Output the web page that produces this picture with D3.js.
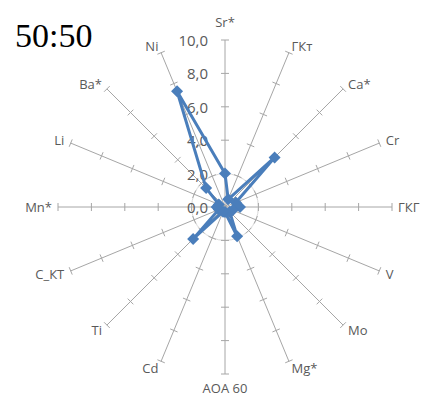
<!DOCTYPE html>
<html><head><meta charset="utf-8">
<script src="https://cdn.jsdelivr.net/npm/d3@7"></script>
<style>html,body{margin:0;padding:0;background:#fff}</style>
</head><body>
<svg id="c" width="424" height="399"></svg>
<script>
const categories = ["Sr*","ГКт","Ca*","Cr","ГКГ","V","Mo","Mg*","АОА 60","Cd","Ti","С_КТ","Mn*","Li","Ba*","Ni"];
const values = [2.0,0.5,4.2,0.7,0.9,0.5,0.4,1.9,0.3,0.3,2.7,0.4,0.5,0.4,1.6,7.5];
const tickValues = [0,2,4,6,8,10];
const tickLabels = ["0,0","2,0","4,0","6,0","8,0","10,0"];
const title = "50:50";

const svg = d3.select("#c");
const cx = 225, cy = 207, R = 167;
const r = d3.scaleLinear().domain([0,10]).range([0,R]);
const ang = d3.scaleLinear().domain([0,categories.length]).range([0,2*Math.PI]);
const axisColor = "#a6a6a6", textColor = "#595959", blue = "#4a7ebb";
const font = "'Open Sans', 'Liberation Sans', sans-serif";
const g = svg.append("g").attr("transform",`translate(${cx},${cy})`);

// faint grid circle
g.append("circle").attr("r", r(2)).attr("fill","none").attr("stroke","#d9d9d9").attr("stroke-width",1);

// spokes with tick marks
categories.forEach((c,i)=>{
  const a = ang(i), s = Math.sin(a), co = -Math.cos(a);
  g.append("line").attr("x1",0).attr("y1",0).attr("x2",r(10)*s).attr("y2",r(10)*co)
   .attr("stroke",axisColor).attr("stroke-width",1);
  tickValues.slice(1).forEach(t=>{
    const px = r(t)*s, py = r(t)*co, L = 4;
    g.append("line").attr("x1",px - L*(-co)).attr("y1",py - L*s)
     .attr("x2",px + L*(-co)).attr("y2",py + L*s)
     .attr("stroke",axisColor).attr("stroke-width",1);
  });
  // label
  let off = 7, anchor = "middle";
  if (Math.abs(s) < 0.1) off = co < 0 ? 18 : 14;
  else if (Math.abs(co) < 0.1) off = 6;
  if (s > 0.1) anchor = "start"; else if (s < -0.1) anchor = "end";
  g.append("text").attr("x",(R+off)*s).attr("y",(R+off)*co)
   .attr("text-anchor",anchor).attr("dominant-baseline","central")
   .attr("font-family",font).attr("font-size",13)
   .attr("fill",textColor).text(c);
});

// value labels along the first axis
tickValues.forEach((t,k)=>{
  g.append("text").attr("x",-17).attr("y",-r(t)).attr("text-anchor","end")
   .attr("dominant-baseline","central")
   .attr("font-family",font).attr("font-size",15)
   .attr("fill",textColor).text(tickLabels[k]);
});

// series
const line = d3.lineRadial().angle((d,i)=>ang(i)).radius(d=>r(d)).curve(d3.curveLinearClosed);
g.append("path").datum(values).attr("d",line).attr("fill","none")
 .attr("stroke",blue).attr("stroke-width",3).attr("stroke-linejoin","round");
const sym = d3.symbol().type(d3.symbolSquare).size(72);
values.forEach((v,i)=>{
  const a = ang(i);
  g.append("path").attr("d",sym).attr("fill",blue)
   .attr("transform",`translate(${r(v)*Math.sin(a)},${-r(v)*Math.cos(a)}) rotate(45)`);
});

svg.append("text").attr("x",15).attr("y",47).attr("font-family","'Liberation Serif', serif")
 .attr("font-size",34).attr("fill","#000").text(title);
</script>
</body></html>
